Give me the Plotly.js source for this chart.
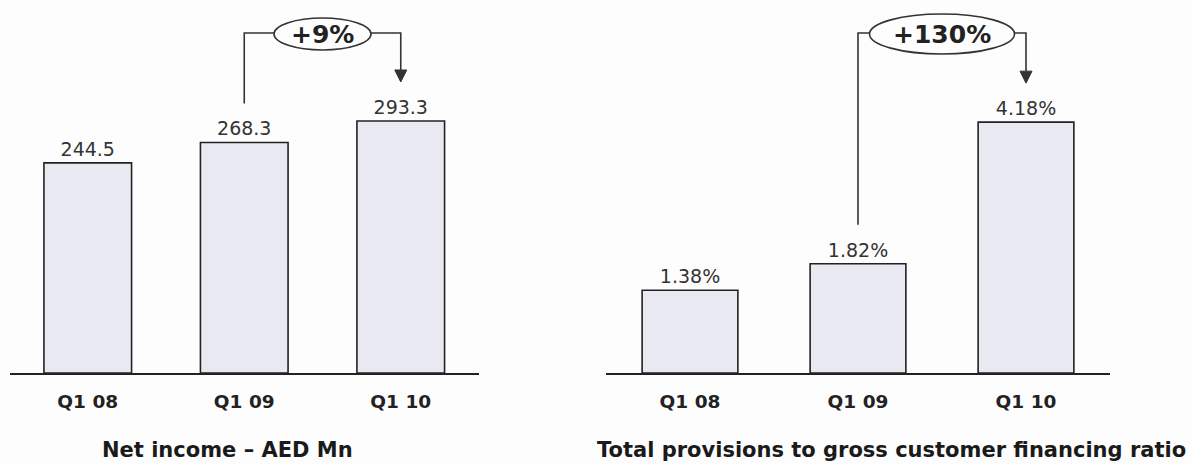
<!DOCTYPE html>
<html>
<head>
<meta charset="utf-8">
<script src="https://cdn.plot.ly/plotly-3.0.1.min.js"></script>
<style>
  html, body { margin: 0; padding: 0; background: #fdfdfd; }
  #chart { width: 1192px; height: 464px; }
</style>
</head>
<body>
<div id="chart"></div>
<script>
// Quarterly figures
const quarters = ['Q1 08', 'Q1 09', 'Q1 10'];
const netIncome = [244.5, 268.3, 293.3];          // AED Mn
const provisionRatio = [1.38, 1.82, 4.18];         // % of gross customer financing

const titleLeft = 'Net income \u2013 AED Mn';
const titleRight = 'Total provisions to gross customer financing ratio';

// Page geometry (pixels)
const W = 1192, H = 464;
const baselinePx = 373;
const FONT = 'DejaVu Sans, Arial, sans-serif';
const INK = '#222222';

const yDomain = [(H - baselinePx) / H, 1];
const leftYMax = 434.1;
const rightYMax = 6.215;
const leftDomain = [9.5 / W, 479 / W];
const rightDomain = [606 / W, 1110 / W];

const pctChange = (a, b) => '+' + Math.round((b / a - 1) * 100) + '%';
const py = p => (H - p) / H;                       // pixel row -> paper y
const valToPaper = (v, ymax) => yDomain[0] + (v / ymax) * (yDomain[1] - yDomain[0]);

const xIdx = quarters.map((_, i) => i);

const barStyle = {
  color: '#e9e9f1',
  line: { color: INK, width: 1.6 }
};

const traces = [
  {
    type: 'bar', x: xIdx, y: netIncome, xaxis: 'x', yaxis: 'y',
    width: 0.56, marker: barStyle,
    texttemplate: '%{y:.1f}', textposition: 'outside', cliponaxis: false,
    textfont: { family: FONT, size: 19, color: '#333' },
    hoverinfo: 'skip'
  },
  {
    type: 'bar', x: xIdx, y: provisionRatio, xaxis: 'x2', yaxis: 'y2',
    width: 0.57, marker: barStyle,
    texttemplate: '%{y:.2f}%', textposition: 'outside', cliponaxis: false,
    textfont: { family: FONT, size: 19, color: '#333' },
    hoverinfo: 'skip'
  }
];

function xAxis(domain, anchor) {
  return {
    domain: domain, anchor: anchor, range: [-0.5, 2.5],
    tickmode: 'array', tickvals: xIdx, ticktext: quarters,
    showline: true, linecolor: INK, linewidth: 1.6,
    showgrid: false, zeroline: false,
    ticks: 'outside', ticklen: 11, tickcolor: 'rgba(0,0,0,0)',
    tickfont: { family: FONT, size: 18.5, color: INK, weight: 'bold' },
    fixedrange: true
  };
}
function yAxis(range, anchor) {
  return {
    domain: yDomain, anchor: anchor, range: range,
    showline: false, showgrid: false, zeroline: false,
    showticklabels: false, ticks: '', fixedrange: true
  };
}

// Growth bracket: from above bar 2 up, across, and down to an arrow over bar 3
function bracket(xref, values, ymax, stepPx, rxPx, ryPx) {
  const topY = py(33);
  const startY = valToPaper(values[1], ymax) + 39 / H;
  const tipY = valToPaper(values[2], ymax) + 39 / H;
  const headY = tipY + 12 / H;
  const hw = 6 / stepPx;
  const mid = 1.5;
  const rx = rxPx / stepPx;
  const cy = py(34);
  return [
    {
      type: 'path', xref: xref, yref: 'paper',
      path: `M 1 ${startY} L 1 ${topY} L 2 ${topY} L 2 ${headY}`,
      line: { color: '#333', width: 1.6 }
    },
    {
      type: 'path', xref: xref, yref: 'paper',
      path: `M ${2 - hw} ${headY} L ${2 + hw} ${headY} L 2 ${tipY} Z`,
      fillcolor: '#333', line: { color: '#333', width: 1 }
    },
    {
      type: 'circle', xref: xref, yref: 'paper',
      x0: mid - rx, x1: mid + rx, y0: cy - ryPx / H, y1: cy + ryPx / H,
      fillcolor: '#fdfdfd', line: { color: '#333', width: 1.6 }
    }
  ];
}

const shapes = [
  ...bracket('x', netIncome, leftYMax, 156.5, 48.5, 16),
  ...bracket('x2', provisionRatio, rightYMax, 168, 72.5, 20)
];

const annotations = [
  {
    xref: 'x', yref: 'paper', x: 1.5, y: py(34), xanchor: 'center', yanchor: 'middle',
    text: '<b>' + pctChange(netIncome[1], netIncome[2]) + '</b>', showarrow: false,
    font: { family: FONT, size: 25, color: INK }
  },
  {
    xref: 'x2', yref: 'paper', x: 1.5, y: py(34), xanchor: 'center', yanchor: 'middle',
    text: '<b>' + pctChange(provisionRatio[1], provisionRatio[2]) + '</b>', showarrow: false,
    font: { family: FONT, size: 25, color: INK }
  },
  {
    xref: 'paper', yref: 'paper', x: 227 / W, y: py(450), xanchor: 'center', yanchor: 'middle',
    text: '<b>' + titleLeft + '</b>', showarrow: false,
    font: { family: FONT, size: 21, color: '#1a1a1a' }
  },
  {
    xref: 'paper', yref: 'paper', x: 891 / W, y: py(450), xanchor: 'center', yanchor: 'middle',
    text: '<b>' + titleRight + '</b>', showarrow: false,
    font: { family: FONT, size: 21, color: '#1a1a1a' }
  }
];

const layout = {
  width: W, height: H,
  margin: { l: 0, r: 0, t: 0, b: 0, pad: 0 },
  paper_bgcolor: '#fdfdfd', plot_bgcolor: 'rgba(0,0,0,0)',
  showlegend: false,
  xaxis: xAxis(leftDomain, 'y'),
  yaxis: yAxis([0, leftYMax], 'x'),
  xaxis2: xAxis(rightDomain, 'y2'),
  yaxis2: yAxis([0, rightYMax], 'x2'),
  shapes: shapes,
  annotations: annotations,
  font: { family: FONT, color: INK }
};

Plotly.newPlot('chart', traces, layout, { displayModeBar: false, staticPlot: true });
</script>
</body>
</html>
